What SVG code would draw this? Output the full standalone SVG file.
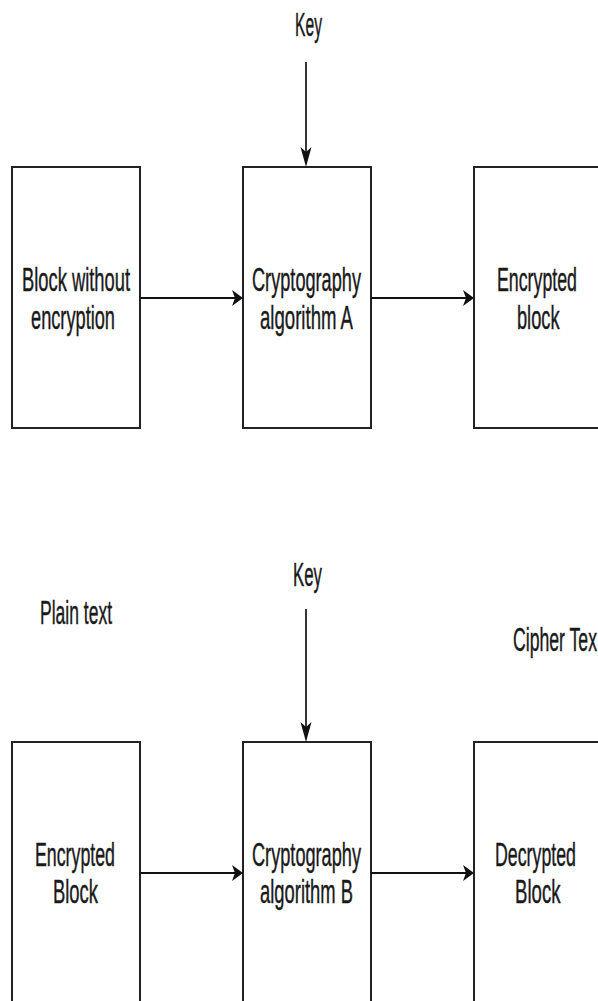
<svg xmlns="http://www.w3.org/2000/svg" width="598" height="1001" viewBox="0 0 598 1001">
  <style>
    .box { fill: #ffffff; stroke: #222222; stroke-width: 2; }
    .lbl { font-family: "Liberation Sans Narrow", "Liberation Sans", Arial, sans-serif; font-size: 32.5px; fill: #1a1a1a; stroke: #1a1a1a; stroke-width: 0.45; }
    .wire { fill: none; stroke: #111111; stroke-width: 2; }
    .wire-v { fill: none; stroke: #111111; stroke-width: 1.7; }
  </style>
  <defs>
    <!-- short, wide head for the horizontal flow arrows -->
    <marker id="headH" viewBox="0 -9 12 18" refX="3" refY="0" markerWidth="12" markerHeight="18" markerUnits="userSpaceOnUse" orient="auto">
      <path d="M0,-8 L11,0 L0,8 L3,0 Z" fill="#111111"/>
    </marker>
    <!-- long, narrow head for the key arrows -->
    <marker id="headV" viewBox="0 -7 21 14" refX="5" refY="0" markerWidth="21" markerHeight="14" markerUnits="userSpaceOnUse" orient="auto">
      <path d="M0,-5.5 L20,0 L0,5.5 L5,0 Z" fill="#111111"/>
    </marker>
  </defs>
  <rect width="598" height="1001" fill="#ffffff"/>

  <!-- Encryption row -->
  <g id="key-a">
    <text class="lbl" x="295" y="36" textLength="27" lengthAdjust="spacingAndGlyphs">Key</text>
  </g>
  <g id="plain-block">
    <rect class="box" x="12" y="167" width="128" height="261"/>
    <text class="lbl" x="22" y="291" textLength="108" lengthAdjust="spacingAndGlyphs">Block without</text>
    <text class="lbl" x="31" y="329" textLength="84" lengthAdjust="spacingAndGlyphs">encryption</text>
  </g>
  <g id="algo-a">
    <rect class="box" x="243" y="167" width="128" height="261"/>
    <text class="lbl" x="252" y="291" textLength="109" lengthAdjust="spacingAndGlyphs">Cryptography</text>
    <text class="lbl" x="260" y="329" textLength="93" lengthAdjust="spacingAndGlyphs">algorithm A</text>
  </g>
  <g id="encrypted-out">
    <rect class="box" x="474" y="167" width="128" height="261"/>
    <text class="lbl" x="497" y="291" textLength="80" lengthAdjust="spacingAndGlyphs">Encrypted</text>
    <text class="lbl" x="517" y="329" textLength="42.5" lengthAdjust="spacingAndGlyphs">block</text>
  </g>

  <!-- Side captions -->
  <g id="caption-plain">
    <text class="lbl" x="40" y="624" textLength="72" lengthAdjust="spacingAndGlyphs">Plain text</text>
  </g>
  <g id="caption-cipher">
    <text class="lbl" x="513" y="651" textLength="84" lengthAdjust="spacingAndGlyphs">Cipher Tex</text>
  </g>

  <!-- Decryption row -->
  <g id="key-b">
    <text class="lbl" x="293" y="586" textLength="29" lengthAdjust="spacingAndGlyphs">Key</text>
  </g>
  <g id="encrypted-in">
    <rect class="box" x="12" y="742" width="128" height="261"/>
    <text class="lbl" x="35" y="866" textLength="80" lengthAdjust="spacingAndGlyphs">Encrypted</text>
    <text class="lbl" x="53" y="903" textLength="45" lengthAdjust="spacingAndGlyphs">Block</text>
  </g>
  <g id="algo-b">
    <rect class="box" x="243" y="742" width="128" height="261"/>
    <text class="lbl" x="252" y="866" textLength="109" lengthAdjust="spacingAndGlyphs">Cryptography</text>
    <text class="lbl" x="260" y="903" textLength="93" lengthAdjust="spacingAndGlyphs">algorithm B</text>
  </g>
  <g id="decrypted-out">
    <rect class="box" x="474" y="742" width="128" height="261"/>
    <text class="lbl" x="495" y="866" textLength="81" lengthAdjust="spacingAndGlyphs">Decrypted</text>
    <text class="lbl" x="515" y="903" textLength="45.5" lengthAdjust="spacingAndGlyphs">Block</text>
  </g>

  <!-- Connectors -->
  <g id="connectors">
    <path class="wire-v" d="M306,62 V152" marker-end="url(#headV)"/>
    <path class="wire" d="M140,298 H235" marker-end="url(#headH)"/>
    <path class="wire" d="M371,298 H466" marker-end="url(#headH)"/>
    <path class="wire-v" d="M306,609 V727" marker-end="url(#headV)"/>
    <path class="wire" d="M140,873 H235" marker-end="url(#headH)"/>
    <path class="wire" d="M371,873 H466" marker-end="url(#headH)"/>
  </g>
</svg>
